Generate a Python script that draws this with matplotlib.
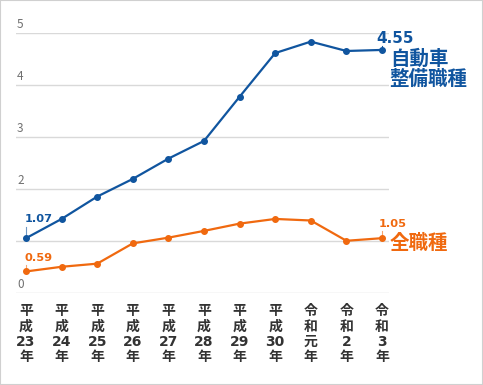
"""
Job-opening ratio trend: automotive mechanics vs. all occupations.
"""
import matplotlib

matplotlib.use("Agg")
import matplotlib.pyplot as plt
import matplotlib.transforms as mtransforms

plt.rcParams["font.family"] = ["Noto Sans CJK JP", "DejaVu Sans"]

# --- data ---
years = ["平\n成\n23\n年", "平\n成\n24\n年", "平\n成\n25\n年", "平\n成\n26\n年",
         "平\n成\n27\n年", "平\n成\n28\n年", "平\n成\n29\n年", "平\n成\n30\n年",
         "令\n和\n元\n年", "令\n和\n2\n年", "令\n和\n3\n年"]
mechanic = [1.06, 1.43, 1.86, 2.20, 2.59, 2.93, 3.78, 4.62, 4.84, 4.66, 4.68]
all_jobs = [0.42, 0.51, 0.57, 0.96, 1.07, 1.20, 1.34, 1.43, 1.40, 1.01, 1.06]
mechanic_labels = ("1.07", "4.55")
all_jobs_labels = ("0.59", "1.05")
y_ticks = [0, 2, 3, 4, 5]
grid_lines = [0, 1, 2, 3, 4, 5]

BLUE = "#10559f"
ORANGE = "#f0690f"
GRID = "#d9d9d9"

fig = plt.figure(figsize=(4.83, 3.85), dpi=100)
fig.patches.append(plt.Rectangle((0, 0), 1, 1, transform=fig.transFigure,
                                 fill=False, edgecolor="#d0d0d0", lw=1.5))
ax = fig.add_axes([16 / 483, (385 - 293.3) / 385, 373 / 483, 260 / 385])

x = list(range(len(years)))
for g in grid_lines:
    ax.axhline(g, color=GRID, lw=1.0, zorder=0)

ax.plot(x, mechanic, color=BLUE, lw=1.6, marker="o", ms=4, zorder=3)
ax.plot(x, all_jobs, color=ORANGE, lw=1.6, marker="o", ms=4, zorder=3)

ax.set_xlim(-10 / 35.6, 10 + 7 / 35.6)
ax.set_ylim(0, 5)
for s in ax.spines.values():
    s.set_visible(False)
ax.set_yticks([])
ax.set_xticks(x)
ax.set_xticklabels(years, fontsize=10, fontweight="bold", color="#333333",
                   linespacing=1.12, va="top",
                   family=["DejaVu Sans", "Noto Sans CJK JP"])
ax.tick_params(axis="x", length=0, pad=8)

# y labels sit just above their grid lines, left-aligned
trans = mtransforms.blended_transform_factory(ax.transAxes, ax.transData)
for t in y_ticks:
    ax.text(0.003, t + 0.04, str(t), transform=trans, fontsize=8.5,
            color="#707070", ha="left", va="bottom")


# value labels with short leader lines
def value_label(xi, yi, text, color, dy=0.25, dx=-0.05):
    ax.plot([xi, xi], [yi, yi + dy * 0.75], color=color, lw=0.8, alpha=0.6,
            zorder=2)
    ax.text(xi + dx, yi + dy, text, color=color, fontsize=8.2,
            fontweight="bold", ha="left", va="bottom", family="DejaVu Sans")


value_label(0, mechanic[0], mechanic_labels[0], BLUE, dy=0.28)
value_label(0, all_jobs[0], all_jobs_labels[0], ORANGE, dy=0.16)
value_label(10, all_jobs[-1], all_jobs_labels[1], ORANGE, dy=0.18, dx=-0.08)
ax.plot([10, 10], [mechanic[-1], mechanic[-1] + 0.08], color=BLUE, lw=0.8)
ax.text(9.85, mechanic[-1] + 0.08, mechanic_labels[1], color=BLUE,
        fontsize=11, fontweight="bold", ha="left", va="bottom",
        family="DejaVu Sans", clip_on=False)

ax.text(10.22, mechanic[-1] + 0.0, "自動車\n整備職種", color=BLUE,
        fontsize=14, fontweight="bold", ha="left", va="top",
        linespacing=1.02, clip_on=False)
ax.text(10.22, all_jobs[-1] - 0.11, "全職種", color=ORANGE, fontsize=14,
        fontweight="bold", ha="left", va="center", clip_on=False)

fig.savefig("out.png", dpi=100)
